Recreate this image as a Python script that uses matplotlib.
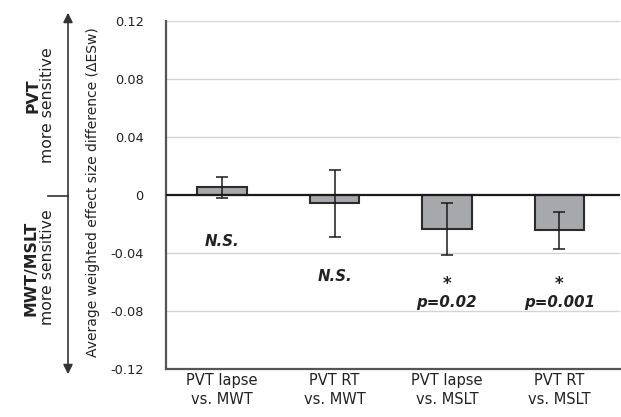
import matplotlib
matplotlib.use("Agg")
import matplotlib.pyplot as plt
from matplotlib.patches import FancyArrowPatch
from matplotlib.lines import Line2D

categories = ["PVT lapse\nvs. MWT", "PVT RT\nvs. MWT", "PVT lapse\nvs. MSLT", "PVT RT\nvs. MSLT"]
values = [0.0055, -0.0057, -0.0233, -0.0242]
errors = [0.0072, 0.0230, 0.0178, 0.0128]
annot_labels = ["N.S.", "N.S.", "*\np=0.02", "*\np=0.001"]
annot_y = [-0.032, -0.056, -0.074, -0.074]
yticks = [-0.12, -0.08, -0.04, 0, 0.04, 0.08, 0.12]
ytick_labels = ["-0.12", "-0.08", "-0.04", "0", "0.04", "0.08", "0.12"]

plt.rcParams['font.family'] = ['DejaVu Sans']

W, H = 621, 417
fig = plt.figure(figsize=(W / 100, H / 100), dpi=100)
ax = fig.add_axes([166 / W, 1 - 369 / H, (620 - 166) / W, (369 - 21.3) / H])

x = list(range(len(categories)))
ax.bar(x, values, width=0.44, color="#a6a8ab", edgecolor="#2b2b2b", linewidth=1.5, zorder=3)
ax.errorbar(x, values, yerr=errors, fmt="none", ecolor="#1a1a1a", elinewidth=1.1,
            capsize=4, capthick=1.1, zorder=4)

ax.set_ylim(-0.12, 0.12)
ax.set_xlim(-0.5, 3.54)
ax.set_yticks(yticks)
ax.set_yticklabels(ytick_labels, fontsize=9.3, color="#222222")
ax.set_xticks(x)
ax.set_xticklabels(categories, fontsize=10.5, color="#222222", linespacing=1.3)
ax.tick_params(axis="both", length=0)
ax.tick_params(axis="x", pad=3)
ax.tick_params(axis="y", pad=16)

for yv in yticks:
    if yv != 0:
        ax.axhline(yv, color="#d4d4d4", lw=1, zorder=1)
ax.axhline(0, color="#1a1a1a", lw=1.6, zorder=5)

for s in ["top", "right"]:
    ax.spines[s].set_visible(False)
for s in ["left", "bottom"]:
    ax.spines[s].set_color("#555555")
    ax.spines[s].set_linewidth(1.6)

for xi, lab, yv in zip(x, annot_labels, annot_y):
    if lab.startswith("*"):
        star, ptxt = lab.split("\n")
        ax.text(xi, yv + 0.013, star, ha="center", va="center", fontsize=12,
                fontweight="bold", color="#222222")
        ax.text(xi, yv, ptxt, ha="center", va="center", fontsize=10.8,
                fontweight="bold", fontstyle="italic", color="#222222")
    else:
        ax.text(xi, yv, lab, ha="center", va="center", fontsize=10.8, fontweight="bold",
                fontstyle="italic", color="#222222")

ax.set_ylabel("Average weighted effect size difference (ΔESw)", fontsize=10, color="#222222")
ax.yaxis.set_label_coords((100 - 166) / (620 - 166), 0.51)

def fx(px):
    return px / W

def fy(py):
    return 1 - py / H

arrow = FancyArrowPatch((fx(68), fy(10)), (fx(68), fy(377)), arrowstyle="<|-|>",
                        mutation_scale=14, color="#333333", lw=1.2, transform=fig.transFigure)
fig.add_artist(arrow)
fig.add_artist(Line2D([fx(48), fx(68)], [fy(196), fy(196)], color="#333333", lw=1.2,
                      transform=fig.transFigure))

fig.text(fx(33), fy(96), "PVT", rotation=90, ha="center", va="center", fontsize=11.3,
         fontweight="bold", color="#222222")
fig.text(fx(48), fy(105), "more sensitive", rotation=90, ha="center", va="center",
         fontsize=11.3, color="#222222")
fig.text(fx(31), fy(268), "MWT/MSLT", rotation=90, ha="center", va="center", fontsize=11.3,
         fontweight="bold", color="#222222")
fig.text(fx(48), fy(267), "more sensitive", rotation=90, ha="center", va="center",
         fontsize=11.3, color="#222222")

fig.savefig("out.png", dpi=100)
